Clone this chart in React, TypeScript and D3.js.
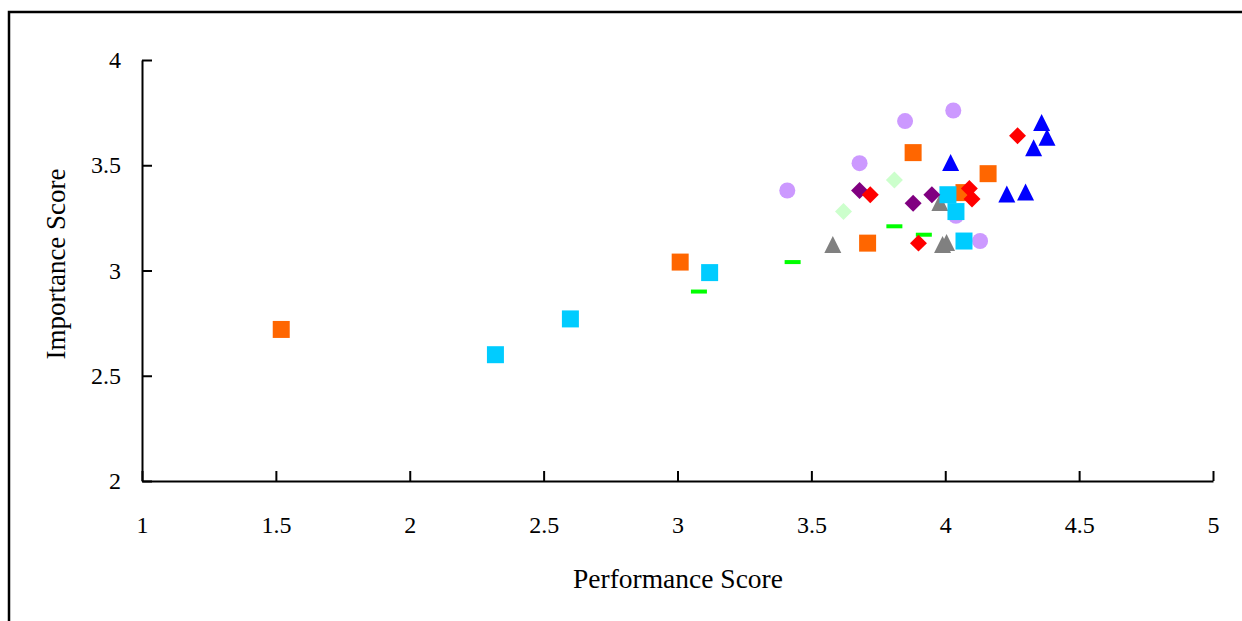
import React, { useRef, useEffect } from 'react';
import * as d3 from 'd3';

// Performance (x) / Importance (y) pairs, one array per group
const lavenderCircles: [number, number][] = [
  [3.41, 3.38], [3.68, 3.51], [3.85, 3.71], [4.03, 3.76], [4.13, 3.14], [4.04, 3.26],
];
const grayTriangles: [number, number][] = [
  [3.58, 3.11], [3.98, 3.31], [3.99, 3.11], [4.005, 3.12],
];
const orangeSquares: [number, number][] = [
  [1.52, 2.72], [3.01, 3.04], [3.88, 3.56], [4.16, 3.46], [3.71, 3.13], [4.07, 3.37],
];
const cyanSquares: [number, number][] = [
  [2.32, 2.6], [2.6, 2.77], [3.12, 2.99], [4.01, 3.36], [4.04, 3.28], [4.07, 3.14],
];
const greenDashes: [number, number][] = [
  [3.08, 2.9], [3.43, 3.04], [3.81, 3.21], [3.92, 3.17],
];
const paleGreenDiamonds: [number, number][] = [
  [3.81, 3.43], [3.62, 3.28],
];
const purpleDiamonds: [number, number][] = [
  [3.68, 3.38], [3.88, 3.32], [3.95, 3.36],
];
const redDiamonds: [number, number][] = [
  [4.27, 3.64], [3.72, 3.36], [4.09, 3.39], [4.1, 3.34], [3.9, 3.13],
];
const blueTriangles: [number, number][] = [
  [4.02, 3.5], [4.36, 3.69], [4.38, 3.62], [4.33, 3.57], [4.23, 3.35], [4.3, 3.36],
];

const xTicks = [1, 1.5, 2, 2.5, 3, 3.5, 4, 4.5, 5];
const yTicks = [2, 2.5, 3, 3.5, 4];

const FONT = '"Liberation Serif", "DejaVu Serif", serif';

// triangle as tall as it is wide, centred on its centroid
const tallTriangle: d3.SymbolType = {
  draw(context, size) {
    const w = Math.sqrt(size);
    context.moveTo(0, (-2 * w) / 3);
    context.lineTo(w / 2, w / 3);
    context.lineTo(-w / 2, w / 3);
    context.closePath();
  },
};

const App: React.FC = () => {
  const svgRef = useRef<SVGSVGElement>(null);

  useEffect(() => {
    if (!svgRef.current) return;
    const svg = d3.select(svgRef.current);
    svg.selectAll('*').remove();

    // frame around the figure (runs off the right and bottom edges)
    svg.append('rect')
      .attr('x', 9).attr('y', 12)
      .attr('width', 1400).attr('height', 800)
      .attr('fill', 'white')
      .attr('stroke', '#000').attr('stroke-width', 2.5);

    const x = d3.scaleLinear().domain([1, 5]).range([142, 1213]);
    const y = d3.scaleLinear().domain([2, 4]).range([481, 60]);

    // axes with inward ticks
    const xAxis = svg.append('g')
      .attr('transform', 'translate(0,481)')
      .call(d3.axisBottom(x).tickValues(xTicks).tickSizeInner(-10).tickSizeOuter(0)
        .tickPadding(35).tickFormat(d => String(d)));
    const yAxis = svg.append('g')
      .attr('transform', 'translate(142,0)')
      .call(d3.axisLeft(y).tickValues(yTicks).tickSizeInner(-10).tickSizeOuter(0)
        .tickPadding(21).tickFormat(d => String(d)));

    [xAxis, yAxis].forEach(g => {
      g.select('.domain').attr('stroke', '#000').attr('stroke-width', 2);
      g.selectAll('.tick line').attr('stroke', '#000').attr('stroke-width', 2);
      g.selectAll('.tick text')
        .attr('fill', '#000')
        .style('font-family', FONT)
        .style('font-size', '24px');
    });

    // axis titles
    svg.append('text')
      .attr('x', 678).attr('y', 588)
      .attr('text-anchor', 'middle')
      .style('font-family', FONT).style('font-size', '27.5px')
      .text('Performance Score');
    svg.append('text')
      .attr('transform', 'translate(65,264) rotate(-90)')
      .attr('text-anchor', 'middle')
      .style('font-family', FONT).style('font-size', '27px')
      .text('Importance Score');

    const plot = svg.append('g');

    const drawSymbols = (
      data: [number, number][],
      type: d3.SymbolType,
      size: number,
      color: string,
      rotate = 0,
    ) => {
      const sym = d3.symbol().type(type).size(size);
      plot.selectAll(null)
        .data(data)
        .enter()
        .append('path')
        .attr('d', sym() as string)
        .attr('transform', d => `translate(${x(d[0])},${y(d[1])}) rotate(${rotate})`)
        .attr('fill', color);
    };

    drawSymbols(grayTriangles, tallTriangle, 289, '#808080');
    drawSymbols(lavenderCircles, d3.symbolCircle, 201, '#cc99ff');
    drawSymbols(orangeSquares, d3.symbolSquare, 289, '#ff6600');
    drawSymbols(cyanSquares, d3.symbolSquare, 289, '#00ccff');

    plot.selectAll(null)
      .data(greenDashes)
      .enter()
      .append('rect')
      .attr('x', d => x(d[0]) - 8)
      .attr('y', d => y(d[1]) - 2)
      .attr('width', 16)
      .attr('height', 4)
      .attr('fill', '#00ff00');

    drawSymbols(paleGreenDiamonds, d3.symbolSquare, 144, '#ccffcc', 45);
    drawSymbols(purpleDiamonds, d3.symbolSquare, 144, '#800080', 45);
    drawSymbols(redDiamonds, d3.symbolSquare, 144, '#ff0000', 45);
    drawSymbols(blueTriangles, tallTriangle, 289, '#0000ff');
  }, []);

  return (
    <svg
      ref={svgRef}
      width={1242}
      height={621}
      style={{ position: 'absolute', left: 0, top: 0, background: 'white' }}
    />
  );
};

export default App;
